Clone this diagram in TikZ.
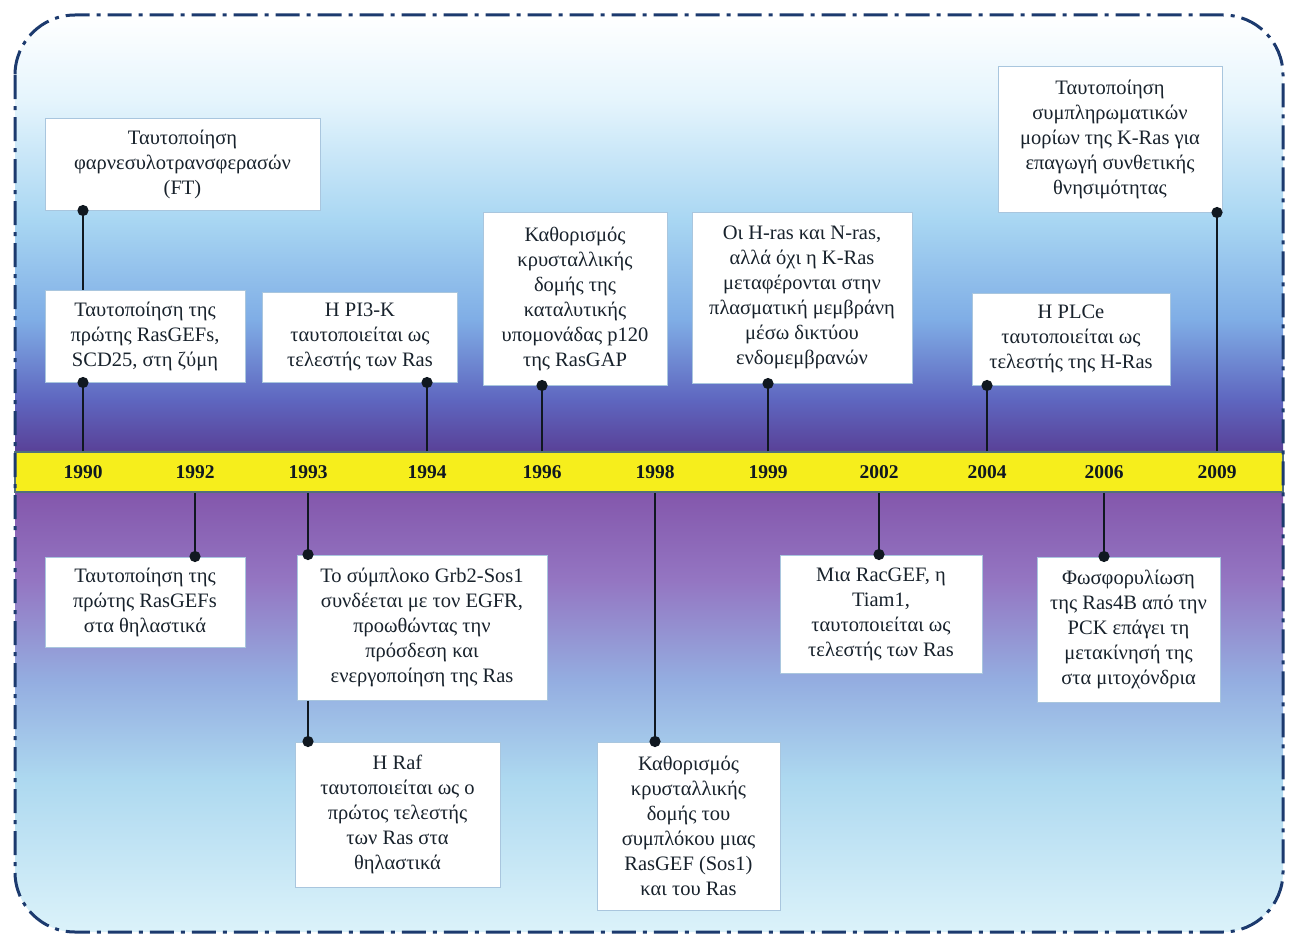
\documentclass[tikz,border=0pt]{standalone}
\usepackage{fontspec}
\setmainfont{Liberation Serif}
\usetikzlibrary{arrows.meta}

\definecolor{frameblue}{HTML}{1C3A6E}
\definecolor{boxedge}{HTML}{A9C6DE}
\definecolor{bandyellow}{HTML}{F6EE1C}
\definecolor{bandedge}{HTML}{52707A}
\definecolor{linkblack}{HTML}{101820}
\definecolor{inktext}{HTML}{18222C}

% background: white sky above, purple round the time line, light blue below
\pgfdeclareverticalshading{skyfade}{100bp}{
  rgb(0bp)=(0.86,0.95,0.98);
  rgb(25bp)=(0.86,0.95,0.98);
  rgb(33.3bp)=(0.68,0.85,0.94);
  rgb(38.7bp)=(0.58,0.68,0.88);
  rgb(44.2bp)=(0.58,0.46,0.76);
  rgb(48.6bp)=(0.52,0.35,0.68);
  rgb(51.3bp)=(0.35,0.26,0.60);
  rgb(54bp)=(0.37,0.40,0.75);
  rgb(58.4bp)=(0.50,0.68,0.90);
  rgb(63.8bp)=(0.66,0.84,0.95);
  rgb(70.4bp)=(0.90,0.96,0.99);
  rgb(75bp)=(1,1,1);
  rgb(100bp)=(1,1,1)}

\begin{document}
\begin{tikzpicture}[
    x=1pt, y=-1pt,
    event/.style={rectangle, draw=boxedge, line width=1pt, fill=white, align=center, inner sep=0pt, text=inktext, font=\fontsize{20.5}{25}\selectfont},
    year/.style={font=\fontsize{19.5}{20}\selectfont\bfseries, text=linkblack},
    link/.style={draw=linkblack, line width=2.5pt, -{Circle[length=11pt]}, shorten >=-5.5pt}
]
    \useasboundingbox (0,0) rectangle (1290,942);
    \shade[shading=skyfade, rounded corners=60pt] (15,15) rectangle (1283,932);

    % Time line
    \node[draw=bandedge, fill=bandyellow, line width=1.5pt, minimum width=1268pt, minimum height=40pt, inner sep=0pt] (band) at (649,472) {};
    \node[year] (y1990) at (83,472) {1990};
    \node[year] (y1992) at (195,472) {1992};
    \node[year] (y1993) at (308,472) {1993};
    \node[year] (y1994) at (427,472) {1994};
    \node[year] (y1996) at (542,472) {1996};
    \node[year] (y1998) at (655,472) {1998};
    \node[year] (y1999) at (768,472) {1999};
    \node[year] (y2002) at (879,472) {2002};
    \node[year] (y2004) at (987,472) {2004};
    \node[year] (y2006) at (1104,472) {2006};
    \node[year] (y2009) at (1217,472) {2009};

    % Events above the line
    \node[event, minimum width=275pt, minimum height=92pt] (ft) at (182.5,164) {Ταυτοποίηση\\φαρνεσυλοτρανσφερασών\\(FT)};
    \node[event, minimum width=200pt, minimum height=92pt] (scd) at (145,336) {Ταυτοποίηση της\\πρώτης RasGEFs,\\SCD25, στη ζύμη};
    \node[event, minimum width=195pt, minimum height=90pt] (pi3k) at (360,337) {Η PI3-K\\ταυτοποιείται ως\\τελεστής των Ras};
    \node[event, minimum width=184pt, minimum height=173pt] (p120) at (575,298.5) {Καθορισμός\\κρυσταλλικής\\δομής της\\καταλυτικής\\υπομονάδας p120\\της RasGAP};
    \node[event, minimum width=220pt, minimum height=171pt] (hras) at (802,297.5) {Οι H-ras και N-ras,\\αλλά όχι η K-Ras\\μεταφέρονται στην\\πλασματική μεμβράνη\\μέσω δικτύου\\ενδομεμβρανών};
    \node[event, minimum width=198pt, minimum height=92pt] (plce) at (1071,339) {Η PLCe\\ταυτοποιείται ως\\τελεστής της H-Ras};
    \node[event, minimum width=224pt, minimum height=145pt] (kras) at (1110,139.5) {Ταυτοποίηση\\συμπληρωματικών\\μορίων της K-Ras για\\επαγωγή συνθετικής\\θνησιμότητας};

    % Events below the line
    \node[event, minimum width=200pt, minimum height=90pt] (mamm) at (145,602) {Ταυτοποίηση της\\πρώτης RasGEFs\\στα θηλαστικά};
    \node[event, minimum width=250pt, minimum height=145pt] (grb2) at (422,627.5) {Το σύμπλοκο Grb2-Sos1\\συνδέεται με τον EGFR,\\προωθώντας την\\πρόσδεση και\\ενεργοποίηση της Ras};
    \node[event, minimum width=205pt, minimum height=145pt] (raf) at (397.5,814.5) {Η Raf\\ταυτοποιείται ως ο\\πρώτος τελεστής\\των Ras στα\\θηλαστικά};
    \node[event, minimum width=183pt, minimum height=168pt] (sos1) at (688.5,826) {Καθορισμός\\κρυσταλλικής\\δομής του\\συμπλόκου μιας\\RasGEF (Sos1)\\και του Ras};
    \node[event, minimum width=202pt, minimum height=118pt] (tiam) at (881,614) {Μια RacGEF, η\\Tiam1,\\ταυτοποιείται ως\\τελεστής των Ras};
    \node[event, minimum width=183pt, minimum height=145pt] (ras4b) at (1128.5,629.5) {Φωσφορυλίωση\\της Ras4B από την\\PCK επάγει τη\\μετακίνησή της\\στα μιτοχόνδρια};

    % Connections
    \draw[link] (y1990 |- band.north) -- (y1990 |- scd.south);
    \draw[link] (scd.north -| y1990) -- (ft.south -| y1990);
    \draw[link] (y1994 |- band.north) -- (y1994 |- pi3k.south);
    \draw[link] (y1996 |- band.north) -- (y1996 |- p120.south);
    \draw[link] (y1999 |- band.north) -- (y1999 |- hras.south);
    \draw[link] (y2004 |- band.north) -- (y2004 |- plce.south);
    \draw[link] (y2009 |- band.north) -- (y2009 |- kras.south);
    \draw[link] (y1992 |- band.south) -- (y1992 |- mamm.north);
    \draw[link] (y1993 |- band.south) -- (y1993 |- grb2.north);
    \draw[link] (grb2.south -| y1993) -- (raf.north -| y1993);
    \draw[link] (y1998 |- band.south) -- (y1998 |- sos1.north);
    \draw[link] (y2002 |- band.south) -- (y2002 |- tiam.north);
    \draw[link] (y2006 |- band.south) -- (y2006 |- ras4b.north);

    % Frame
    \draw[frameblue, line width=3pt, rounded corners=60pt, dash pattern=on 24pt off 7pt on 4pt off 7pt] (15,15) rectangle (1283,932);
\end{tikzpicture}
\end{document}
